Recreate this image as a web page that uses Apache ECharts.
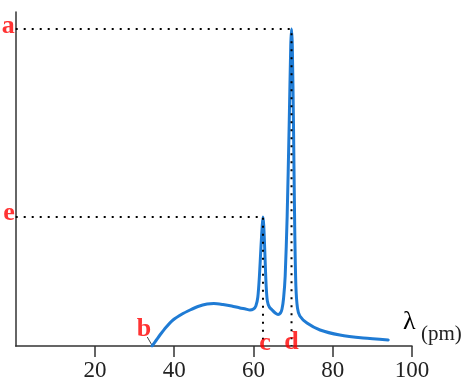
<!DOCTYPE html>
<html><head><meta charset="utf-8">
<script src="https://cdn.jsdelivr.net/npm/echarts@6/dist/echarts.min.js"></script>
<style>html,body{margin:0;padding:0;background:#fff}#c{width:474px;height:386px}</style>
</head><body><div id="c"></div>
<script>
// x-ray spectrum: wavelength (pm) vs intensity (arbitrary units)
const wavelengths = [34.4,35.5,36.4,38,39.7,42,44,46,48.3,50,52.3,54.5,56.6,58,59.1,60,60.6,61.1,61.5,61.9,62.2,62.4,62.6,62.9,63.2,63.5,64,64.7,65.5,66.2,66.8,67.2,67.6,68,68.5,69,69.4,69.6,69.8,70.1,70.4,70.7,71.1,71.7,73.5,76.8,81.8,87.7,94];
const intensity   = [0,6,11,19,26,32,36,39.5,42,42.5,41.5,40,38,37,36,37,40,49,70,100,120,129,120,90,60,45,39,36,33,31.5,33,37,48,70,130,220,300,317,300,220,120,60,38,30,23,16,11,8,6];
const xTicks = [20,40,60,80,100];
const peakC = {x:62.4, y:129};
const peakD = {x:69.6, y:317};
const cutoffB = {x:34.4, y:0};
const pointLabels = ['a','b','c','d','e'];

const chart = echarts.init(document.getElementById('c'));
const serif = '"Liberation Serif","DejaVu Serif",serif';
const dotStyle = {color:'#000', width:2, type:[2,6]};
chart.setOption({
  animation:false,
  grid:{left:15.7,right:62,top:12,bottom:40},
  xAxis:{type:'value',min:0,max:100,interval:20,
    axisLine:{onZero:false,lineStyle:{color:'#333',width:1.5}},
    axisTick:{show:true,inside:false,length:11,lineStyle:{color:'#333',width:1.5},
      customValues:xTicks},
    axisLabel:{margin:13,fontFamily:serif,fontSize:23,color:'#222',
      customValues:xTicks,formatter:v=>v===0?'':String(v)},
    splitLine:{show:false}},
  yAxis:{type:'value',min:0,max:334,
    axisLine:{show:true,lineStyle:{color:'#333',width:1.5}},
    axisTick:{show:false},axisLabel:{show:false},splitLine:{show:false}},
  series:[
    {type:'line',data:[[0,peakD.y],[peakD.x,peakD.y],[peakD.x,0]],symbol:'none',lineStyle:dotStyle,z:3},
    {type:'line',data:[[0,peakC.y],[peakC.x,peakC.y],[peakC.x,0]],symbol:'none',lineStyle:dotStyle,z:3},
    {type:'line',data:[[cutoffB.x-1.2,9],[cutoffB.x+0.1,0]],symbol:'none',lineStyle:{color:'#444',width:1},z:1},
    {type:'line',data:wavelengths.map((w,i)=>[w,intensity[i]]),symbol:'none',smooth:0.25,
      lineStyle:{color:'#1f7bd4',width:3,join:'round',cap:'round'},z:2},
    {type:'scatter',symbolSize:0,z:5,
      label:{show:true,fontFamily:serif,fontWeight:'bold',fontSize:26,color:'#f00',formatter:p=>p.value[2]},
      data:[
        {value:[0,peakD.y,pointLabels[0]],label:{position:'left',distance:1,offset:[0,-3]}},
        {value:[cutoffB.x,0,pointLabels[1]],label:{position:'inside',offset:[-8,-17]}},
        {value:[peakC.x,0,pointLabels[2]],label:{position:'inside',offset:[2,-3]}},
        {value:[peakD.x,0,pointLabels[3]],label:{position:'inside',offset:[0,-4]}},
        {value:[0,peakC.y,pointLabels[4]],label:{position:'left',distance:1,offset:[0,-4]}}
      ]}
  ],
  graphic:[
    {type:'text',left:403,top:309,style:{text:'λ',font:'26px '+serif,fill:'#000'}},
    {type:'text',left:421,top:324,style:{text:'(pm)',font:'21px '+serif,fill:'#222'}}
  ]
});
</script></body></html>
